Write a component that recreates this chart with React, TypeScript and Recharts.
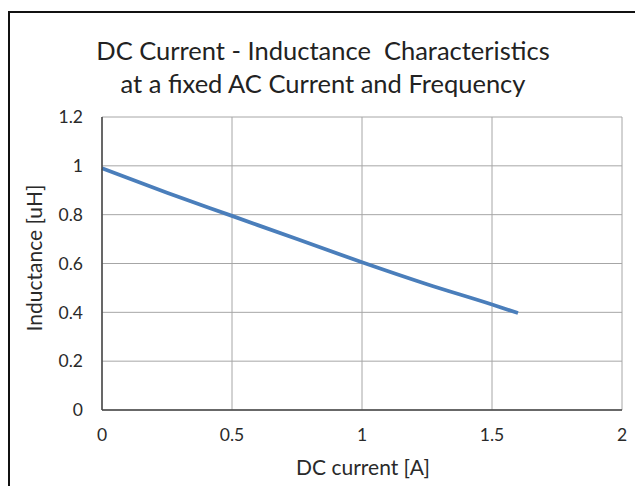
import { LineChart, Line, XAxis, YAxis, CartesianGrid } from "recharts"

const dcCurrent = [0, 0.25, 0.5, 0.75, 1.0, 1.25, 1.5, 1.6]
const inductance = [0.99, 0.89, 0.795, 0.7, 0.605, 0.515, 0.432, 0.397]
const xTicks = [0, 0.5, 1, 1.5, 2]
const yTicks = [0, 0.2, 0.4, 0.6, 0.8, 1, 1.2]

const titleLines = ["DC Current - Inductance  Characteristics", "at a fixed AC Current and Frequency"]

const font = "Lato, 'Open Sans', sans-serif"

export default function App() {
  const data = dcCurrent.map((x, i) => ({ x, y: inductance[i] }))

  return (
    <div style={{ position: "absolute", left: 0, top: 0, width: 635, height: 486, overflow: "hidden", background: "#fff", fontFamily: font }}>
      {/* frame, only top and left edges are visible in the crop */}
      <div style={{ position: "absolute", left: 8, top: 11, width: 700, height: 600, borderTop: "2px solid #111", borderLeft: "2px solid #111" }} />

      {titleLines.map((t, i) => (
        <div
          key={t}
          style={{ position: "absolute", left: 0, width: 646, top: 34 + i * 33, lineHeight: "33px", textAlign: "center", fontSize: 25.5, color: "#222", whiteSpace: "pre" }}
        >
          {t}
        </div>
      ))}

      <div style={{ position: "absolute", left: 0, top: 0 }}>
        <LineChart width={635} height={486} data={data} margin={{ top: 117, right: 13, left: 42, bottom: 46 }}>
          <CartesianGrid stroke="#a6a6a6" strokeWidth={1} />
          <XAxis
            dataKey="x"
            type="number"
            domain={[0, 2]}
            ticks={xTicks}
            tickLine={false}
            tickSize={0}
            tickMargin={19}
            height={30}
            axisLine={{ stroke: "#444", strokeWidth: 1.5 }}
            tick={{ fontSize: 17.5, fill: "#2a2a2a", fontFamily: font }}
          />
          <YAxis
            type="number"
            domain={[0, 1.2]}
            ticks={yTicks}
            tickLine={false}
            tickSize={0}
            tickMargin={19}
            width={60}
            axisLine={{ stroke: "#444", strokeWidth: 1.5 }}
            tick={{ fontSize: 17.5, fill: "#2a2a2a", fontFamily: font }}
          />
          <Line
            type="monotone"
            dataKey="y"
            stroke="#4a7ebb"
            strokeWidth={3.8}
            dot={false}
            isAnimationActive={false}
          />
        </LineChart>
      </div>

      <div style={{ position: "absolute", left: 263, width: 200, top: 453, lineHeight: "28px", textAlign: "center", fontSize: 21, color: "#2a2a2a" }}>
        DC current [A]
      </div>
      <div
        style={{ position: "absolute", left: 34, top: 258, width: 240, marginLeft: -120, marginTop: -14, textAlign: "center", fontSize: 21, color: "#2a2a2a", transform: "rotate(-90deg)", lineHeight: "28px" }}
      >
        Inductance [uH]
      </div>
    </div>
  )
}
